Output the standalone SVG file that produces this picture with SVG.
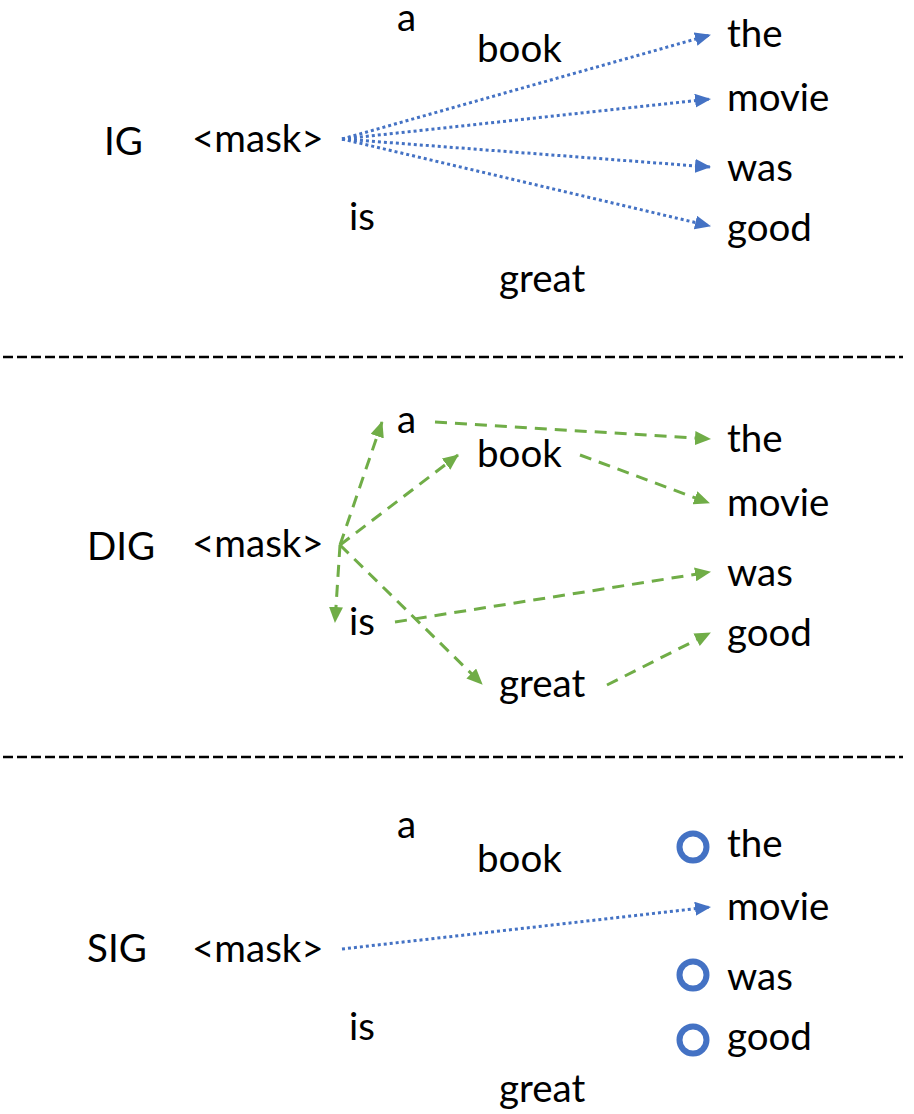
<svg xmlns="http://www.w3.org/2000/svg" width="914" height="1114" viewBox="0 0 914 1114">
<style>
text{font-family:Lato,"Liberation Sans",sans-serif;font-size:38.5px;fill:#000}
.sep{stroke:#000;stroke-width:2.5;stroke-dasharray:10 4}
.blue{stroke:#4472C4;stroke-width:3;stroke-dasharray:3 3;fill:none}
.green{stroke:#70AD47;stroke-width:3;stroke-dasharray:12 8;fill:none}
.ring{fill:none;stroke:#4472C4;stroke-width:6}
</style>
<defs>
<marker id="ab" markerUnits="userSpaceOnUse" markerWidth="16" markerHeight="14" refX="15" refY="7" orient="auto"><path d="M0,0L16,7L0,14z" fill="#4472C4"/></marker>
<marker id="ag" markerUnits="userSpaceOnUse" markerWidth="16" markerHeight="14" refX="15" refY="7" orient="auto"><path d="M0,0L16,7L0,14z" fill="#70AD47"/></marker>
</defs>
<g id="separators">
<line class="sep" x1="3" y1="357" x2="903" y2="357"/>
<line class="sep" x1="3" y1="757" x2="903" y2="757"/>
</g>
<g id="ig">
<text x="104" y="155">IG</text>
<text x="192" y="152">&lt;mask&gt;</text>
<text x="397" y="31">a</text>
<text x="477" y="62">book</text>
<text x="727" y="47">the</text>
<text x="727" y="111">movie</text>
<text x="727" y="181">was</text>
<text x="727" y="241">good</text>
<text x="349" y="230">is</text>
<text x="499" y="292">great</text>
</g>
<g id="dig">
<text x="87" y="560">DIG</text>
<text x="192" y="557">&lt;mask&gt;</text>
<text x="397" y="433">a</text>
<text x="477" y="467">book</text>
<text x="727" y="452">the</text>
<text x="727" y="516">movie</text>
<text x="727" y="586">was</text>
<text x="727" y="646">good</text>
<text x="349" y="635">is</text>
<text x="499" y="697">great</text>
</g>
<g id="sig">
<text x="87" y="962">SIG</text>
<text x="192" y="962">&lt;mask&gt;</text>
<text x="397" y="838">a</text>
<text x="477" y="872">book</text>
<text x="727" y="857">the</text>
<text x="727" y="920">movie</text>
<text x="727" y="990">was</text>
<text x="727" y="1050">good</text>
<text x="349" y="1040">is</text>
<text x="499" y="1102">great</text>
<circle class="ring" cx="693" cy="847" r="13.5"/>
<circle class="ring" cx="693" cy="975" r="13.5"/>
<circle class="ring" cx="693" cy="1040" r="13.5"/>
</g>
<g id="connectors">
<line class="blue" x1="342" y1="139" x2="710" y2="35" marker-end="url(#ab)"/>
<line class="blue" x1="342" y1="139" x2="710" y2="99" marker-end="url(#ab)"/>
<line class="blue" x1="342" y1="139" x2="710" y2="167" marker-end="url(#ab)"/>
<line class="blue" x1="342" y1="139" x2="710" y2="226" marker-end="url(#ab)"/>
<line class="green" x1="340" y1="545" x2="382" y2="422" marker-end="url(#ag)"/>
<line class="green" x1="340" y1="545" x2="458" y2="455" marker-end="url(#ag)"/>
<line class="green" x1="340" y1="545" x2="335" y2="622" marker-end="url(#ag)"/>
<line class="green" x1="340" y1="545" x2="482" y2="684" marker-end="url(#ag)"/>
<line class="green" x1="435" y1="422" x2="710" y2="439" marker-end="url(#ag)"/>
<line class="green" x1="580" y1="455" x2="709" y2="503" marker-end="url(#ag)"/>
<line class="green" x1="395" y1="622" x2="710" y2="572" marker-end="url(#ag)"/>
<line class="green" x1="607" y1="685" x2="710" y2="633" marker-end="url(#ag)"/>
<line class="blue" x1="342" y1="949" x2="710" y2="907" marker-end="url(#ab)"/>
</g>
</svg>
